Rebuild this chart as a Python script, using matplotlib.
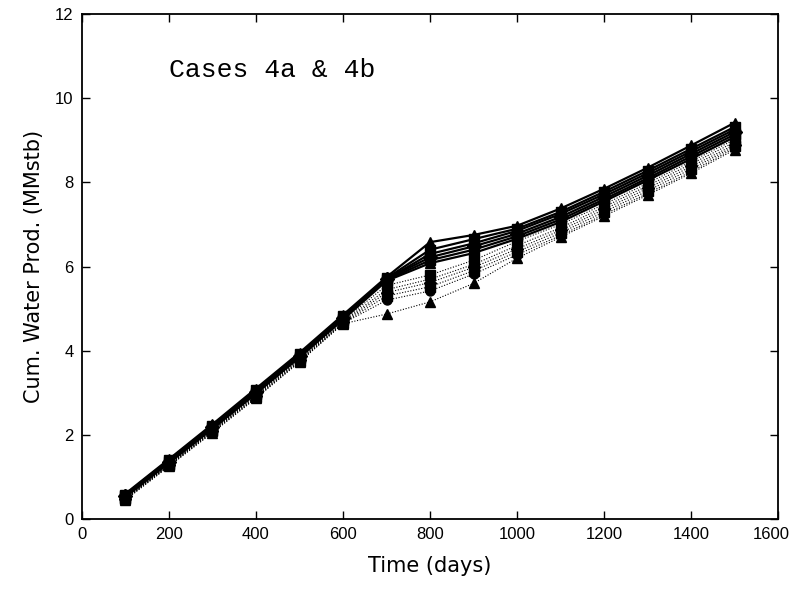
import matplotlib
matplotlib.use("Agg")
import matplotlib.pyplot as plt
from matplotlib.transforms import ScaledTranslation

days = [100, 200, 300, 400, 500, 600, 700, 800, 900, 1000, 1100, 1200, 1300, 1400, 1500]

# upper group (solid lines)
upper_series = [
    [0.60, 1.42, 2.25, 3.10, 3.95, 4.85, 5.75, 6.58, 6.75, 6.97, 7.38, 7.85, 8.35, 8.88, 9.42],
    [0.58, 1.40, 2.22, 3.07, 3.92, 4.82, 5.72, 6.40, 6.65, 6.90, 7.30, 7.78, 8.28, 8.80, 9.32],
    [0.57, 1.38, 2.20, 3.05, 3.90, 4.80, 5.70, 6.30, 6.55, 6.85, 7.25, 7.72, 8.22, 8.74, 9.26],
    [0.55, 1.36, 2.18, 3.02, 3.88, 4.78, 5.70, 6.22, 6.48, 6.78, 7.18, 7.66, 8.16, 8.68, 9.20],
    [0.54, 1.35, 2.16, 3.00, 3.86, 4.76, 5.68, 6.15, 6.40, 6.72, 7.12, 7.60, 8.10, 8.62, 9.14],
    [0.52, 1.33, 2.14, 2.98, 3.84, 4.74, 5.66, 6.08, 6.32, 6.66, 7.06, 7.55, 8.05, 8.56, 9.08],
]
upper_markers = ["^", "s", "o", "D", "s", "^"]

# lower group (dotted lines)
lower_series = [
    [0.50, 1.30, 2.12, 2.96, 3.82, 4.72, 5.55, 5.80, 6.15, 6.60, 7.00, 7.48, 7.98, 8.50, 9.02],
    [0.49, 1.29, 2.10, 2.94, 3.80, 4.70, 5.45, 5.70, 6.05, 6.50, 6.92, 7.42, 7.92, 8.44, 8.96],
    [0.48, 1.28, 2.09, 2.92, 3.78, 4.68, 5.38, 5.62, 5.98, 6.42, 6.86, 7.36, 7.86, 8.38, 8.90],
    [0.47, 1.27, 2.08, 2.90, 3.76, 4.66, 5.30, 5.52, 5.90, 6.35, 6.80, 7.30, 7.80, 8.32, 8.86],
    [0.46, 1.26, 2.06, 2.88, 3.74, 4.65, 5.20, 5.42, 5.82, 6.28, 6.74, 7.24, 7.74, 8.26, 8.82],
    [0.45, 1.25, 2.05, 2.87, 3.73, 4.64, 4.87, 5.16, 5.60, 6.20, 6.70, 7.20, 7.70, 8.22, 8.78],
]
lower_markers = ["s", "o", "D", "s", "o", "^"]

x_ticks = [0, 200, 400, 600, 800, 1000, 1200, 1400, 1600]
y_ticks = [0, 2, 4, 6, 8, 10, 12]

fig = plt.figure(figsize=(7.95, 5.89), dpi=100)
ax = fig.add_axes([0.103, 0.119, 0.876, 0.857])

for vals, m in zip(lower_series, lower_markers):
    ax.plot(days, vals, color="black", linestyle=(0, (1, 1.5)), linewidth=0.8,
            marker=m, markersize=6.5, markerfacecolor="black", markeredgecolor="black")
for vals, m in zip(upper_series, upper_markers):
    ax.plot(days, vals, color="black", linestyle="-", linewidth=1.6,
            marker=m, markersize=7, markerfacecolor="black", markeredgecolor="black")

ax.set_xlim(0, 1600)
ax.set_ylim(0, 12)
ax.set_xticks(x_ticks)
ax.set_yticks(y_ticks)
ax.tick_params(direction="in", top=True, right=True, length=6, width=1, labelsize=12, pad=6)
for lab in ax.get_xticklabels() + ax.get_yticklabels():
    lab.set_family("Liberation Sans")
last = ax.get_xticklabels()[-1]
last.set_transform(last.get_transform() + ScaledTranslation(-5 / 72, 0, fig.dpi_scale_trans))
for s in ax.spines.values():
    s.set_linewidth(1.3)

ax.set_xlabel("Time (days)", fontsize=15, labelpad=10)
ax.set_ylabel("Cum. Water Prod. (MMstb)", fontsize=15, labelpad=8)
ax.text(200, 10.67, "Cases 4a & 4b", fontsize=19, family="Liberation Mono",
        va="center", ha="left")

fig.savefig("out.png", dpi=100)
